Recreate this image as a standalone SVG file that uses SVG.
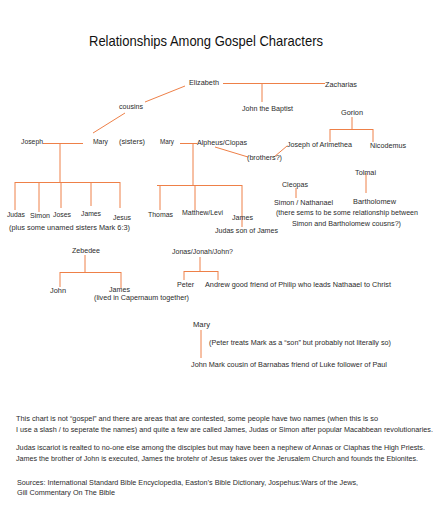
<svg xmlns="http://www.w3.org/2000/svg" width="440" height="528" viewBox="0 0 440 528">
<style>
text{font-family:"Liberation Sans",Arial,sans-serif;font-size:8px;fill:#2b2b2b;}
.title{font-size:15px;fill:#111;}
.n{font-size:7px;}
.c{fill:none;stroke:#EE8048;stroke-width:1;}
</style>
<rect width="440" height="528" fill="#fff"/>
<text class="title" x="89" y="46" textLength="234" lengthAdjust="spacingAndGlyphs">Relationships Among Gospel Characters</text>
<g id="connectors" class="c">
<path d="M223 83.5H325M262 83.5V102M185 86L145 102M125 113L93 133"/>
<path d="M43 143.5H83M60 143.5V182M15 182.5H120M15 182V210M39 182V212M61 182V208M91 182V206M120 182V208"/>
<path d="M180 143.5H197M193 143.5V185M157 185.5H242M160 185V210M195 185V210M242 185V227"/>
<path d="M215 147L248 157M274 157L287 146"/>
<path d="M352 117V129M330 129.5H373M330 129V142M373 129V142"/>
<path d="M296 188V198M366 173V193"/>
<path d="M85 255V272M60 272.5H121M60 272V287M121 272V288"/>
<path d="M200 257V271M184 271.5H218M184 271V280M218 271V280"/>
<path d="M201 330V358"/>
</g>
<g id="elizabeth"><text x="189" y="85" textLength="30" lengthAdjust="spacingAndGlyphs">Elizabeth</text></g>
<g id="zacharias"><text x="325" y="87" textLength="32" lengthAdjust="spacingAndGlyphs">Zacharias</text></g>
<g id="john-baptist"><text x="242" y="111" textLength="51" lengthAdjust="spacingAndGlyphs">John the Baptist</text></g>
<g id="cousins"><text x="119" y="109" textLength="24" lengthAdjust="spacingAndGlyphs">cousins</text></g>
<g id="joseph"><text x="21" y="144" textLength="22" lengthAdjust="spacingAndGlyphs">Joseph</text></g>
<g id="mary1"><text x="93" y="144" textLength="15" lengthAdjust="spacingAndGlyphs">Mary</text></g>
<g id="sisters"><text x="119" y="144" textLength="26" lengthAdjust="spacingAndGlyphs">(sisters)</text></g>
<g id="mary2"><text x="160" y="144" textLength="14" lengthAdjust="spacingAndGlyphs">Mary</text></g>
<g id="alpheus"><text x="197" y="145" textLength="50" lengthAdjust="spacingAndGlyphs">Alpheus/Clopas</text></g>
<g id="brothers"><text x="247" y="160" textLength="35" lengthAdjust="spacingAndGlyphs">(brothers?)</text></g>
<g id="joseph-arimethea"><text x="287" y="147" textLength="65" lengthAdjust="spacingAndGlyphs">Joseph of Arimethea</text></g>
<g id="gorion"><text x="341" y="115" textLength="22" lengthAdjust="spacingAndGlyphs">Gorion</text></g>
<g id="nicodemus"><text x="370" y="148" textLength="36" lengthAdjust="spacingAndGlyphs">Nicodemus</text></g>
<g id="judas"><text x="7" y="217" textLength="18" lengthAdjust="spacingAndGlyphs">Judas</text></g>
<g id="simon"><text x="30" y="218" textLength="20" lengthAdjust="spacingAndGlyphs">Simon</text></g>
<g id="joses"><text x="53" y="217" textLength="18" lengthAdjust="spacingAndGlyphs">Joses</text></g>
<g id="james1"><text x="81" y="216" textLength="20" lengthAdjust="spacingAndGlyphs">James</text></g>
<g id="jesus"><text x="113" y="220" textLength="18" lengthAdjust="spacingAndGlyphs">Jesus</text></g>
<g id="sisters-note"><text x="9" y="230" textLength="121" lengthAdjust="spacingAndGlyphs">(plus  some unamed sisters Mark 6:3)</text></g>
<g id="thomas"><text x="148" y="217" textLength="25" lengthAdjust="spacingAndGlyphs">Thomas</text></g>
<g id="matthew"><text x="182" y="215" textLength="41" lengthAdjust="spacingAndGlyphs">Matthew/Levi</text></g>
<g id="james2"><text x="232" y="220" textLength="21" lengthAdjust="spacingAndGlyphs">James</text></g>
<g id="judas-son"><text x="215" y="233" textLength="63" lengthAdjust="spacingAndGlyphs">Judas son of James</text></g>
<g id="cleopas"><text x="282" y="187" textLength="26" lengthAdjust="spacingAndGlyphs">Cleopas</text></g>
<g id="simon-nathanael"><text x="274" y="205" textLength="59" lengthAdjust="spacingAndGlyphs">Simon / Nathanael</text></g>
<g id="tolmai"><text x="355" y="175" textLength="21" lengthAdjust="spacingAndGlyphs">Tolmai</text></g>
<g id="bartholomew"><text x="353" y="204" textLength="43" lengthAdjust="spacingAndGlyphs">Bartholomew</text></g>
<g id="cousins-note"><text x="276" y="215" textLength="142" lengthAdjust="spacingAndGlyphs">(there sems to be some relationship between</text><text x="292" y="226" textLength="109" lengthAdjust="spacingAndGlyphs">Simon and Bartholomew cousns?)</text></g>
<g id="zebedee"><text x="72" y="253" textLength="28" lengthAdjust="spacingAndGlyphs">Zebedee</text></g>
<g id="john"><text x="50" y="293" textLength="16" lengthAdjust="spacingAndGlyphs">John</text></g>
<g id="james3"><text x="109" y="292" textLength="21" lengthAdjust="spacingAndGlyphs">James</text><text x="94" y="300" textLength="95" lengthAdjust="spacingAndGlyphs">(lived in Capernaum together)</text></g>
<g id="jonas"><text x="172" y="254" textLength="61" lengthAdjust="spacingAndGlyphs">Jonas/Jonah/John?</text></g>
<g id="peter"><text x="177" y="287" textLength="17" lengthAdjust="spacingAndGlyphs">Peter</text></g>
<g id="andrew"><text x="205" y="287" textLength="186" lengthAdjust="spacingAndGlyphs">Andrew  good friend of Philip who leads Nathaael to Christ</text></g>
<g id="mary3"><text x="193" y="327" textLength="17" lengthAdjust="spacingAndGlyphs">Mary</text></g>
<g id="mark-note"><text x="209" y="345" textLength="182" lengthAdjust="spacingAndGlyphs">(Peter treats Mark as a “son” but probably not literally so)</text></g>
<g id="john-mark"><text x="191" y="367" textLength="196" lengthAdjust="spacingAndGlyphs">John Mark  cousin of Barnabas friend of Luke follower of Paul</text></g>
<g id="notes">
<text class="n" x="16" y="421" textLength="362" lengthAdjust="spacingAndGlyphs">This chart is not  “gospel” and there are areas that are contested, some people have two names (when this is so</text>
<text class="n" x="16" y="432" textLength="417" lengthAdjust="spacingAndGlyphs">I use a slash / to seperate the names)  and quite a few are called James, Judas or Simon after popular Macabbean revolutionaries.</text>
<text class="n" x="16" y="450" textLength="409" lengthAdjust="spacingAndGlyphs">Judas iscariot is realted to no-one else  among the disciples but may have been a nephew of Annas or Ciaphas the High Priests.</text>
<text class="n" x="16" y="461" textLength="402" lengthAdjust="spacingAndGlyphs">James the brother of John is executed, James the brotehr of Jesus takes over the Jerusalem Church and founds the Ebionites.</text>
<text class="n" x="17" y="485" textLength="341" lengthAdjust="spacingAndGlyphs">Sources:  International Standard Bible Encyclopedia, Easton’s Bible Dictionary, Jospehus:Wars of the Jews,</text>
<text class="n" x="17" y="495" textLength="98" lengthAdjust="spacingAndGlyphs">Gill Commentary On The Bible</text>
</g>
</svg>
